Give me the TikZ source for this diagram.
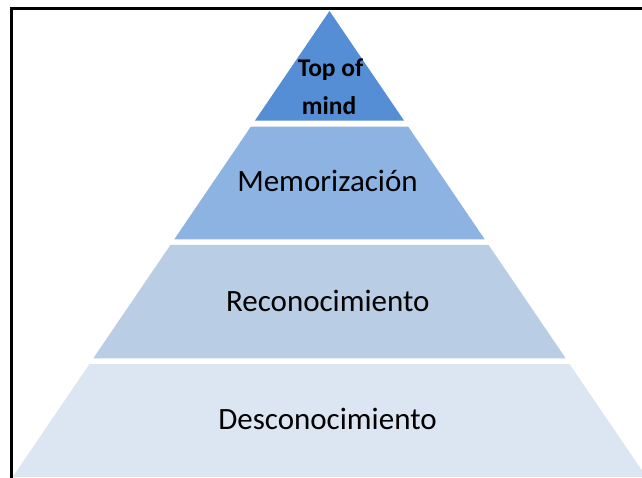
\documentclass[tikz,border=0pt]{standalone}
\usepackage{fontspec}
\setmainfont{Carlito}
\definecolor{tierA}{HTML}{558ED5}
\definecolor{tierB}{HTML}{8DB3E2}
\definecolor{tierC}{HTML}{B9CDE5}
\definecolor{tierD}{HTML}{DCE6F2}
\begin{document}
\begin{tikzpicture}[x=1pt,y=-1pt,
  tierlabel/.style={anchor=base,inner sep=0pt,font=\fontsize{31}{36}\selectfont,text=black},
  toplabel/.style={anchor=base,inner sep=0pt,font=\fontsize{25.5}{30}\selectfont\bfseries,text=black}]
\useasboundingbox (0,0) rectangle (642,478);
\fill[white] (0,0) rectangle (642,478);
% tiers
\fill[tierA] (329.5,11) -- (404.1,120.7) -- (254.9,120.7) -- cycle;
\fill[tierB] (250.8,126.7) -- (408.2,126.7) -- (484.7,239.3) -- (174.3,239.3) -- cycle;
\fill[tierC] (170.4,245) -- (488.6,245) -- (565.7,358.3) -- (93.3,358.3) -- cycle;
\fill[tierD] (89.5,364) -- (569.5,364) -- (646.4,477) -- (12.6,477) -- cycle;
% labels
\node[toplabel] (top1) at (330.5,76.7) {Top of};
\node[toplabel] (top2) at (329,115) {mind};
\node[tierlabel] (mem) at (327.5,192) {Memorización};
\node[tierlabel] (rec) at (327.8,311) {Reconocimiento};
\node[tierlabel] (des) at (327.5,429.3) {Desconocimiento};
% frame
\draw[line width=2.5pt,black] (11.3,480) -- (11.3,8.5) -- (644,8.5);
\end{tikzpicture}
\end{document}
